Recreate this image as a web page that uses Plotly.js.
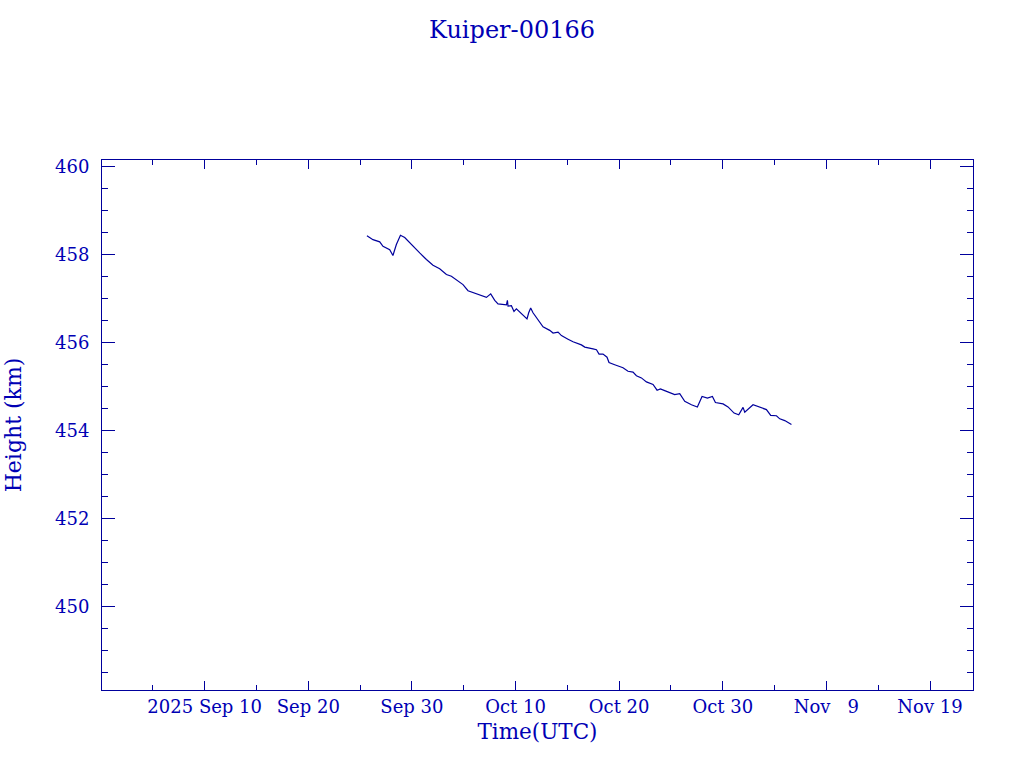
<!DOCTYPE html>
<html>
<head>
<meta charset="utf-8">
<script src="https://cdn.plot.ly/plotly-3.0.1.min.js"></script>
<style>html,body{margin:0;padding:0;background:#fff;}#chart{width:1024px;height:768px;}</style>
</head>
<body>
<div id="chart"></div>
<script>
// Time (UTC) of each sample
const times = [
 '2025-09-25 15:50','2025-09-26 05:50','2025-09-26 21:25','2025-09-27 05:00','2025-09-27 20:35',
 '2025-09-28 04:00','2025-09-28 12:00','2025-09-28 21:25','2025-09-29 07:20','2025-09-29 19:00',
 '2025-09-30 06:30','2025-09-30 18:00','2025-10-01 09:35','2025-10-02 00:50','2025-10-02 16:20',
 '2025-10-03 07:55','2025-10-03 19:25','2025-10-04 07:00','2025-10-04 22:20','2025-10-05 09:55',
 '2025-10-06 01:25','2025-10-06 17:00','2025-10-07 04:35','2025-10-07 14:30','2025-10-07 23:50',
 '2025-10-08 07:25','2025-10-09 02:55','2025-10-09 05:10','2025-10-09 06:35','2025-10-09 14:25',
 '2025-10-09 20:25','2025-10-10 02:00','2025-10-10 09:35','2025-10-10 21:20','2025-10-11 02:35',
 '2025-10-11 06:30','2025-10-11 11:05','2025-10-11 16:30','2025-10-12 04:05','2025-10-12 15:40',
 '2025-10-13 07:10','2025-10-13 14:55','2025-10-14 02:30','2025-10-14 10:20','2025-10-15 01:35',
 '2025-10-15 13:10','2025-10-16 08:35','2025-10-16 16:20','2025-10-17 11:30','2025-10-17 19:25',
 '2025-10-18 01:25','2025-10-18 10:35','2025-10-18 19:55','2025-10-19 00:30','2025-10-19 13:40',
 '2025-10-20 01:20','2025-10-20 08:55','2025-10-20 20:30','2025-10-21 08:05','2025-10-21 16:00',
 '2025-10-22 03:35','2025-10-22 15:10','2025-10-23 06:30','2025-10-23 15:50','2025-10-23 23:35',
 '2025-10-24 09:30','2025-10-24 21:05','2025-10-25 08:40','2025-10-25 20:20','2025-10-26 03:55',
 '2025-10-26 07:55','2025-10-26 23:25','2025-10-27 13:10','2025-10-28 00:00','2025-10-28 12:30',
 '2025-10-29 00:00','2025-10-29 07:00','2025-10-30 00:40','2025-10-30 12:10','2025-10-31 02:10',
 '2025-10-31 13:00','2025-10-31 23:00','2025-11-01 02:55','2025-11-01 22:05','2025-11-02 13:35',
 '2025-11-03 05:05','2025-11-03 15:05','2025-11-04 04:20','2025-11-04 12:00','2025-11-04 23:35',
 '2025-11-05 15:05'
];
// Height (km)
const heights = [
 458.43,458.34,458.29,458.19,458.11,
 457.98,458.23,458.44,458.39,458.27,
 458.14,458.04,457.89,457.76,457.68,
 457.55,457.51,457.43,457.32,457.18,
 457.13,457.07,457.03,457.11,456.96,
 456.88,456.86,456.96,456.83,456.84,
 456.71,456.77,456.70,456.60,456.54,
 456.68,456.79,456.68,456.52,456.36,
 456.28,456.22,456.24,456.16,456.08,
 456.02,455.95,455.90,455.86,455.84,
 455.74,455.74,455.67,455.55,455.50,
 455.46,455.43,455.35,455.33,455.25,
 455.20,455.11,455.05,454.92,454.95,
 454.91,454.87,454.82,454.84,454.74,
 454.67,454.59,454.54,454.78,454.74,
 454.78,454.64,454.61,454.54,454.40,
 454.36,454.53,454.42,454.59,454.54,
 454.48,454.35,454.34,454.27,454.23,
 454.14
];
// Axis ticks
const xTickVals = ['2025-09-10','2025-09-20','2025-09-30','2025-10-10','2025-10-20','2025-10-30','2025-11-09','2025-11-19'];
const xTickText = ['2025 Sep 10','Sep 20','Sep 30','Oct 10','Oct 20','Oct 30','Nov\u00a0\u00a0\u00a09','Nov 19'];
const yTickVals = [450, 452, 454, 456, 458, 460];
const yTickText = ['450', '452', '454', '456', '458', '460'];

const lineCol = '#00009c';
const textCol = '#0000b4';
const FONT = 'DejaVu Serif, serif';

const trace = {
  x: times, y: heights, type: 'scatter', mode: 'lines',
  line: {color: lineCol, width: 1.2}, hoverinfo: 'x+y'
};

const layout = {
  width: 1024, height: 768,
  paper_bgcolor: '#ffffff', plot_bgcolor: '#ffffff',
  margin: {l: 102, r: 51, t: 160, b: 78, pad: 0},
  showlegend: false,
  title: {text: 'Kuiper-00166', font: {family: FONT, size: 24, color: textCol},
          x: 0.5, xanchor: 'center', xref: 'container', y: 1 - 30/768, yanchor: 'middle'},
  xaxis: {
    type: 'date', range: ['2025-08-31 02:10', '2025-11-23 03:35'],
    tickmode: 'array', tickvals: xTickVals, ticktext: xTickText,
    ticks: 'inside', ticklen: 9, tickwidth: 1, tickcolor: lineCol,
    minor: {ticks: 'inside', ticklen: 5, tickwidth: 1, tickcolor: lineCol,
            dtick: 5*86400000, tick0: '2025-09-05', showgrid: false},
    showline: true, linecolor: lineCol, linewidth: 1, mirror: 'ticks',
    showgrid: false, zeroline: false,
    tickfont: {family: FONT, size: 18, color: textCol},
    ticklabelstandoff: 0,
    title: {text: 'Time(UTC)', font: {family: FONT, size: 21.5, color: textCol}, standoff: 8}
  },
  yaxis: {
    range: [448.11, 460.15],
    tickmode: 'array', tickvals: yTickVals, ticktext: yTickText,
    ticks: 'inside', ticklen: 13, tickwidth: 1, tickcolor: lineCol,
    minor: {ticks: 'inside', ticklen: 6, tickwidth: 1, tickcolor: lineCol,
            dtick: 0.5, tick0: 448, showgrid: false},
    showline: true, linecolor: lineCol, linewidth: 1, mirror: 'ticks',
    showgrid: false, zeroline: false,
    tickfont: {family: FONT, size: 18, color: textCol},
    ticklabelstandoff: 8,
    title: {text: 'Height (km)', font: {family: FONT, size: 22, color: textCol}, standoff: 27}
  }
};

Plotly.newPlot('chart', [trace], layout, {displayModeBar: false, staticPlot: true});
</script>
</body>
</html>
